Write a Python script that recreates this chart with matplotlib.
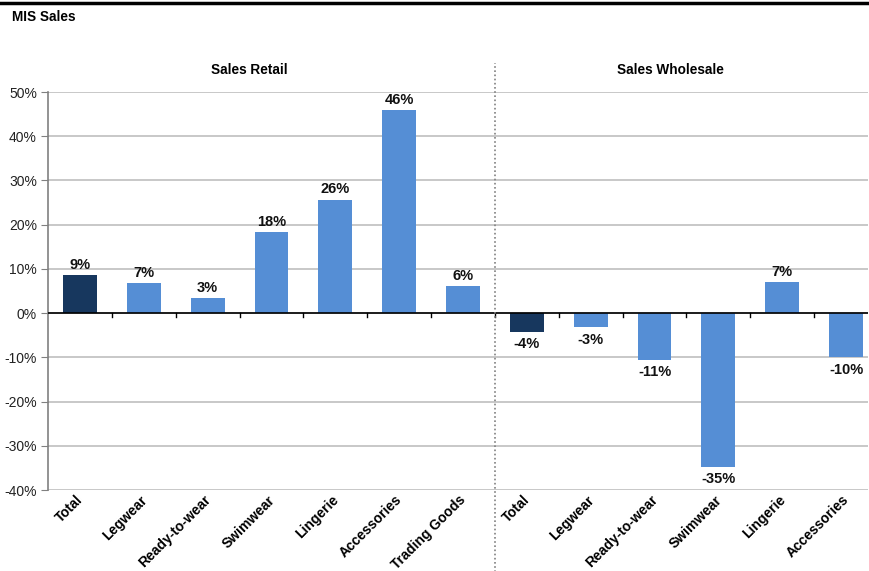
import matplotlib
matplotlib.use('Agg')
import numpy as np
from matplotlib import pyplot as plt
from matplotlib.lines import Line2D
from matplotlib.ticker import PercentFormatter
from matplotlib.transforms import offset_copy

plt.rcParams['font.family'] = ['Liberation Sans', 'DejaVu Sans']
plt.rcParams['axes.unicode_minus'] = False

# data (percent)
retail_cats = ['Total', 'Legwear', 'Ready-to-wear', 'Swimwear', 'Lingerie',
               'Accessories', 'Trading Goods']
retail_vals = [8.6, 6.8, 3.4, 18.3, 25.6, 45.9, 6.1]
retail_labels = ['9%', '7%', '3%', '18%', '26%', '46%', '6%']

wholesale_cats = ['Total', 'Legwear', 'Ready-to-wear', 'Swimwear', 'Lingerie',
                  'Accessories']
wholesale_vals = [-4.3, -3.2, -10.6, -34.8, 7.0, -10.0]
wholesale_labels = ['-4%', '-3%', '-11%', '-35%', '7%', '-10%']

cats = retail_cats + wholesale_cats
vals = retail_vals + wholesale_vals
labels = retail_labels + wholesale_labels
n_retail = len(retail_cats)

dark = '#17375E'
light = '#558ED5'
colors = [dark if c == 'Total' else light for c in cats]

fig = plt.figure(figsize=(8.69, 5.71), dpi=100)
ax = fig.add_axes([48 / 869, 1 - 490 / 571, 820 / 869, 398 / 571])

x = np.arange(len(cats))
bars = ax.bar(x, vals, width=0.53, color=colors, zorder=3)

for xi, v, lab in zip(x, vals, labels):
    if v >= 0:
        ax.text(xi, v + 0.8, lab, ha='center', va='bottom', fontsize=10.5,
                fontweight='bold', color='#111111')
    else:
        ax.text(xi, v - 1.2, lab, ha='center', va='top', fontsize=10.5,
                fontweight='bold', color='#111111')

ax.set_ylim(-40, 50)
ax.set_xlim(-0.5, 12.5 - 10 / 63.8)
ax.set_yticks(np.arange(-40, 51, 10))
ax.yaxis.set_major_formatter(PercentFormatter(decimals=0))
ax.grid(axis='y', color='#BFBFBF', lw=1.2, zorder=0)

ax.set_xticks(x)
ax.set_xticklabels(cats, rotation=45, ha='right', va='top',
                   rotation_mode='anchor', fontsize=10, fontweight='bold')
ax.tick_params(axis='x', length=0, pad=2)
for t in ax.get_xticklabels():
    t.set_transform(offset_copy(t.get_transform(), fig=fig, x=-4, y=0, units='dots'))
ax.tick_params(axis='y', labelsize=10, color='#808080', length=5,
               direction='out', pad=3, labelcolor='#222222')

for s in ['top', 'right', 'bottom']:
    ax.spines[s].set_visible(False)
ax.spines['left'].set_color('#808080')
ax.spines['left'].set_linewidth(1.2)

# zero line with small category separators
ax.axhline(0, color='black', lw=1.2, zorder=4)
for b in np.arange(0.5, len(cats) - 1, 1.0):
    ax.plot([b, b], [0, -0.9], color='black', lw=1, zorder=4, clip_on=False)

# dotted divider between the two groups
ax.axvline(n_retail - 0.5, ymin=-0.21, ymax=1.073, color='#808080', lw=1.2,
           ls=(0, (1, 1.5)), clip_on=False, zorder=5)

# group headers
ax.text(0.246, 1.055, 'Sales Retail', transform=ax.transAxes,
        ha='center', va='center', fontsize=9.8, fontweight='bold')
ax.text(0.7585, 1.055, 'Sales Wholesale', transform=ax.transAxes,
        ha='center', va='center', fontsize=9.8, fontweight='bold')

fig.text(12 / 869, 1 - 17 / 571, 'MIS Sales', ha='left', va='center',
         fontsize=9.8, fontweight='bold')
fig.add_artist(Line2D([0, 1], [1 - 3 / 571, 1 - 3 / 571], color='black', lw=2.5))

fig.savefig('out.png', dpi=100)
